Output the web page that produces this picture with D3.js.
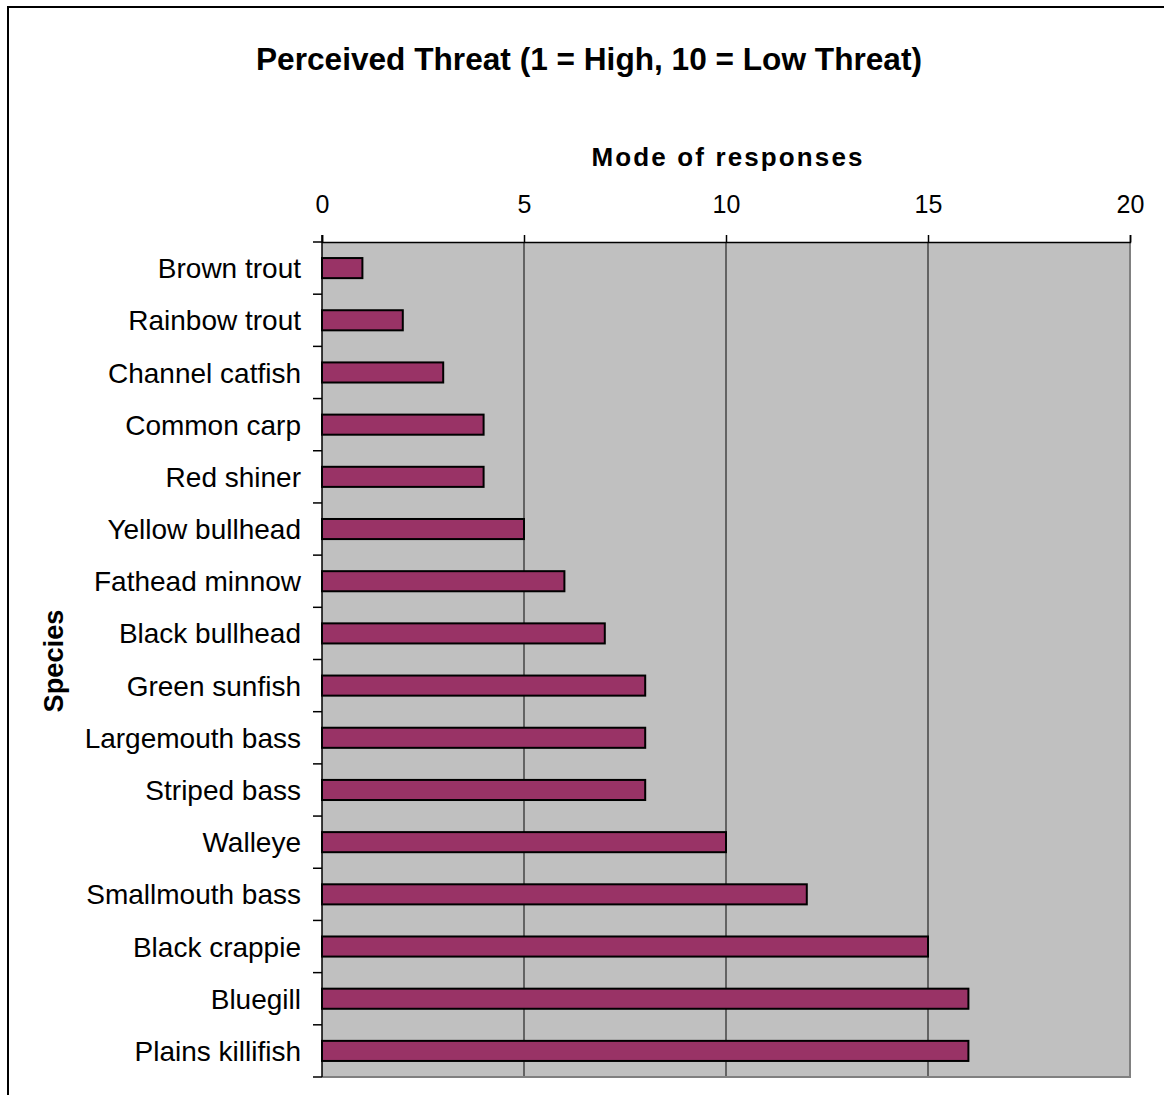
<!DOCTYPE html>
<html>
<head>
<meta charset="utf-8">
<script src="https://cdn.jsdelivr.net/npm/d3@7"></script>
<style>
  html, body { margin: 0; padding: 0; background: #fff; }
  svg { display: block; font-family: "Liberation Sans", Arial, sans-serif; }
</style>
</head>
<body>
<svg id="chart" width="1164" height="1095"></svg>
<script>
// Species and their modal threat ranking
const species = [
  "Brown trout", "Rainbow trout", "Channel catfish", "Common carp", "Red shiner",
  "Yellow bullhead", "Fathead minnow", "Black bullhead", "Green sunfish",
  "Largemouth bass", "Striped bass", "Walleye", "Smallmouth bass",
  "Black crappie", "Bluegill", "Plains killifish"
];
const modeValues = [1, 2, 3, 4, 4, 5, 6, 7, 8, 8, 8, 10, 12, 15, 16, 16];
const xTicks = [0, 5, 10, 15, 20];

const titleText = "Perceived Threat (1 = High, 10 = Low Threat)";
const xTitle = "Mode of responses";
const yTitle = "Species";

const svg = d3.select("#chart");
const plot = { left: 322, right: 1130, top: 242, bottom: 1077 };

// Outer chart frame
svg.append("rect")
  .attr("x", 8).attr("y", 7)
  .attr("width", 1200).attr("height", 1200)
  .attr("fill", "#fff").attr("stroke", "#000").attr("stroke-width", 2);

const x = d3.scaleLinear().domain([0, 20]).range([plot.left, plot.right]);
const y = d3.scaleBand().domain(species).range([plot.top, plot.bottom]).padding(0);

// Plot area
svg.append("rect")
  .attr("x", plot.left).attr("y", plot.top)
  .attr("width", plot.right - plot.left).attr("height", plot.bottom - plot.top)
  .attr("fill", "#c0c0c0");

// Vertical gridlines
svg.append("g")
  .selectAll("line")
  .data(xTicks.filter(t => t > 0 && t < 20))
  .join("line")
  .attr("x1", d => x(d)).attr("x2", d => x(d))
  .attr("y1", plot.top).attr("y2", plot.bottom)
  .attr("stroke", "#444").attr("stroke-width", 1.5);

// Right and bottom edge of the plot area
svg.append("path")
  .attr("d", `M${plot.right},${plot.top}V${plot.bottom}H${plot.left}`)
  .attr("fill", "none").attr("stroke", "#808080").attr("stroke-width", 2);

// Bars
const barH = y.bandwidth() * 0.385;
svg.append("g")
  .selectAll("rect")
  .data(species.map((s, i) => ({ s, v: modeValues[i] })))
  .join("rect")
  .attr("x", x(0))
  .attr("y", d => y(d.s) + (y.bandwidth() - barH) / 2)
  .attr("width", d => x(d.v) - x(0))
  .attr("height", barH)
  .attr("fill", "#993366")
  .attr("stroke", "#000").attr("stroke-width", 2);

// Top value axis
const xAxis = d3.axisTop(x).tickValues(xTicks).tickSize(7).tickPadding(22);
const gx = svg.append("g").attr("transform", `translate(0,${plot.top})`).call(xAxis);
gx.select(".domain").attr("stroke", "#000").attr("stroke-width", 1.5);
gx.selectAll(".tick line").attr("stroke", "#000").attr("stroke-width", 1.5);
gx.selectAll(".tick text")
  .attr("font-size", 25).attr("fill", "#000")
  .attr("font-family", "Liberation Sans, Arial, sans-serif");

// Left category axis: ticks at band boundaries, labels at band centres
const boundaries = species.map(s => y(s)).concat([plot.bottom]);
svg.append("line")
  .attr("x1", plot.left).attr("x2", plot.left)
  .attr("y1", plot.top - 7).attr("y2", plot.bottom)
  .attr("stroke", "#000").attr("stroke-width", 1.5);
svg.append("g")
  .selectAll("line")
  .data(boundaries)
  .join("line")
  .attr("x1", plot.left - 9).attr("x2", plot.left)
  .attr("y1", d => d).attr("y2", d => d)
  .attr("stroke", "#000").attr("stroke-width", 1.5);

const labelSize = 28;
svg.append("g")
  .selectAll("text")
  .data(species)
  .join("text")
  .attr("x", 301)
  .attr("y", d => y(d) + y.bandwidth() / 2 + labelSize * 0.36)
  .attr("text-anchor", "end")
  .attr("font-size", labelSize)
  .attr("fill", "#000")
  .text(d => d);

// Titles
svg.append("text")
  .attr("x", 589).attr("y", 70)
  .attr("text-anchor", "middle")
  .attr("font-size", 31).attr("font-weight", "bold")
  .attr("textLength", 666).attr("lengthAdjust", "spacingAndGlyphs")
  .text(titleText);

svg.append("text")
  .attr("x", 727).attr("y", 166)
  .attr("text-anchor", "middle")
  .attr("font-size", 26).attr("font-weight", "bold")
  .attr("textLength", 271).attr("lengthAdjust", "spacing")
  .text(xTitle);

svg.append("text")
  .attr("transform", `translate(63,661) rotate(-90)`)
  .attr("text-anchor", "middle")
  .attr("font-size", 27).attr("font-weight", "bold")
  .attr("textLength", 103).attr("lengthAdjust", "spacingAndGlyphs")
  .text(yTitle);
</script>
</body>
</html>
